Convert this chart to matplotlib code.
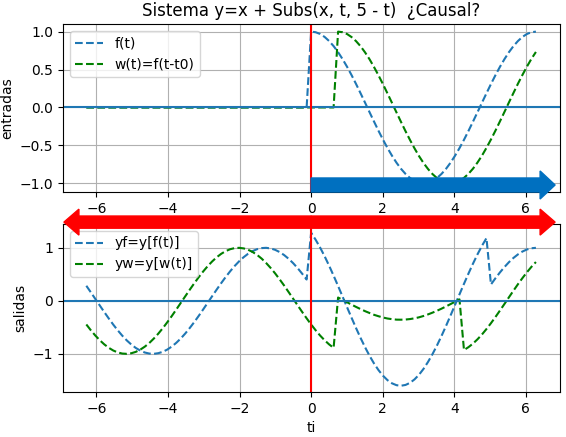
import numpy as np
import matplotlib
matplotlib.use("Agg")
import matplotlib.pyplot as plt

# muestras de tiempo
ti = np.linspace(-2 * np.pi, 2 * np.pi, 101)

# entradas
f_t = [0.0] * 50 + [
    1.0, 0.992, 0.969, 0.930, 0.876, 0.809, 0.729, 0.637, 0.536, 0.426,
    0.309, 0.187, 0.063, -0.063, -0.187, -0.309, -0.426, -0.536, -0.637, -0.729,
    -0.809, -0.876, -0.930, -0.969, -0.992, -1.0, -0.992, -0.969, -0.930, -0.876,
    -0.809, -0.729, -0.637, -0.536, -0.426, -0.309, -0.187, -0.063, 0.063, 0.187,
    0.309, 0.426, 0.536, 0.637, 0.729, 0.809, 0.876, 0.930, 0.969, 0.992, 1.0]

w_t = [0.0] * 56 + [
    1.0, 0.992, 0.968, 0.928, 0.874, 0.807, 0.726, 0.635, 0.532, 0.422,
    0.305, 0.183, 0.059, -0.067, -0.191, -0.313, -0.429, -0.539, -0.641, -0.732,
    -0.811, -0.878, -0.931, -0.970, -0.993, -1.0, -0.992, -0.968, -0.928, -0.874,
    -0.807, -0.726, -0.635, -0.532, -0.422, -0.305, -0.183, -0.059, 0.067, 0.191,
    0.313, 0.429, 0.539, 0.641, 0.732]

# salidas
yf = [
    0.284, 0.161, 0.036, -0.089, -0.213, -0.334, -0.450, -0.558, -0.658, -0.747,
    -0.824, -0.889, -0.939, -0.975, -0.995, -1.0, -0.988, -0.962, -0.920, -0.863,
    -0.793, -0.711, -0.617, -0.513, -0.402, -0.284, -0.161, -0.036, 0.089, 0.213,
    0.334, 0.450, 0.558, 0.658, 0.747, 0.824, 0.889, 0.939, 0.975, 0.995,
    1.0, 0.988, 0.962, 0.920, 0.863, 0.793, 0.711, 0.617, 0.513, 0.402,
    1.284, 1.153, 1.005, 0.841, 0.663, 0.475, 0.279, 0.079, -0.122, -0.321,
    -0.515, -0.701, -0.876, -1.038, -1.183, -1.309, -1.414, -1.498, -1.557, -1.592,
    -1.602, -1.587, -1.547, -1.482, -1.394, -1.284, -1.153, -1.005, -0.841, -0.663,
    -0.475, -0.279, -0.079, 0.122, 0.321, 0.515, 0.701, 0.876, 1.038, 1.183,
    0.309, 0.426, 0.536, 0.637, 0.729, 0.809, 0.876, 0.930, 0.969, 0.992, 1.0]

yw = [
    -0.446, -0.555, -0.655, -0.744, -0.822, -0.887, -0.938, -0.974, -0.995, -1.0,
    -0.989, -0.963, -0.921, -0.865, -0.796, -0.713, -0.620, -0.517, -0.405, -0.288,
    -0.165, -0.040, 0.085, 0.209, 0.330, 0.446, 0.555, 0.655, 0.744, 0.822,
    0.887, 0.938, 0.974, 0.995, 1.0, 0.989, 0.963, 0.921, 0.865, 0.796,
    0.713, 0.620, 0.517, 0.405, 0.288, 0.165, 0.040, -0.085, -0.209, -0.330,
    -0.446, -0.555, -0.655, -0.744, -0.822, -0.887,
    0.062, 0.018, -0.027, -0.072, -0.115, -0.156, -0.195, -0.230, -0.264, -0.291,
    -0.315, -0.334, -0.346, -0.355, -0.356, -0.353, -0.344, -0.330, -0.311, -0.286,
    -0.256, -0.223, -0.187, -0.148, -0.106, -0.062, -0.018, 0.027,
    -0.928, -0.874, -0.807, -0.726, -0.635, -0.532, -0.422, -0.305, -0.183, -0.059,
    0.067, 0.191, 0.313, 0.429, 0.539, 0.641, 0.732]

fig = plt.figure(figsize=(5.66, 4.37), dpi=100)
plt.subplots_adjust(left=0.111, right=0.989, top=0.945, bottom=0.103, hspace=0.19)

ax1 = plt.subplot(2, 1, 1)
ax1.plot(ti, f_t, '--', label='f(t)')
ax1.plot(ti, w_t, 'g--', label='w(t)=f(t-t0)')
ax1.axhline(0)
ax1.axvline(0, color='red')
ax1.set_xlim(-6.94, 6.95)
ax1.set_ylim(-1.115, 1.10)
ax1.set_ylabel('entradas')
ax1.set_title('Sistema y=x + Subs(x, t, 5 - t)  ¿Causal?')
ax1.grid(True)
ax1.legend(loc='upper left')
ax1.arrow(0, -1.022, 6.82, 0, width=0.185, head_width=0.37, head_length=0.42,
          length_includes_head=True, color='#0070c0', clip_on=False, zorder=6)

ax2 = plt.subplot(2, 1, 2)
ax2.plot(ti, yf, '--', label='yf=y[f(t)]')
ax2.plot(ti, yw, 'g--', label='yw=y[w(t)]')
ax2.axhline(0)
ax2.axvline(0, color='red')
ax2.set_xlim(-6.94, 6.95)
ax2.set_ylim(-1.72, 1.45)
ax2.set_ylabel('salidas')
ax2.set_xlabel('ti')
ax2.grid(True)
ax2.legend(loc='upper left')
for dx in (6.82, -6.91):
    ax2.arrow(0, 1.485, dx, 0, width=0.23, head_width=0.49, head_length=0.42,
              length_includes_head=True, color='red', clip_on=False, zorder=6)

plt.savefig('out.png')
